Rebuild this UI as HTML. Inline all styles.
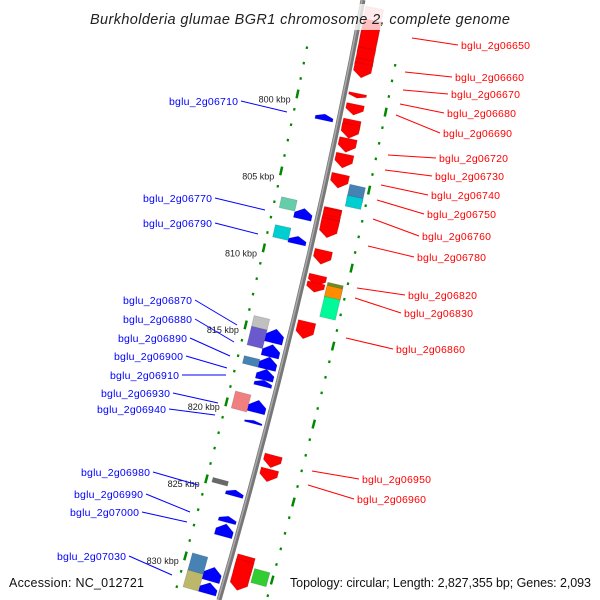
<!DOCTYPE html>
<html><head><meta charset="utf-8"><style>
html,body{margin:0;padding:0;background:#fff}
svg{display:block}
text{font-family:"Liberation Sans",sans-serif}
</style></head><body>
<svg id="map" width="600" height="600" viewBox="0 0 600 600" xmlns="http://www.w3.org/2000/svg">
<g id="ticks"></g>
<path d="M363,0 Q306,300 219,600" stroke="#777" stroke-width="5" fill="none"/>
<path d="M362,0 Q305,300 218,600" stroke="#aaa" stroke-width="1.5" fill="none"/>
<g id="genes"></g>
<g id="labels"></g>
<rect x="80" y="4" width="440" height="26" fill="#fff" opacity="0.75"/>
<text x="90" y="24" font-size="14.5" font-style="italic" fill="#222" textLength="420">Burkholderia glumae BGR1 chromosome 2, complete genome</text>
<rect x="284" y="572" width="316" height="28" fill="#fff" opacity="0.75"/>
<text x="9" y="587" font-size="12.5" fill="#111" textLength="135">Accession: NC_012721</text>
<text x="290" y="587" font-size="12.5" fill="#111" textLength="301">Topology: circular; Length: 2,827,355 bp; Genes: 2,093</text>
</svg>
<script>
// data arrays (kbp)
const tickStart = 797;
const tickEnd = 832;
const majorTicks = [800, 805, 810, 815, 820, 825, 830];
const tickLabels = ["800 kbp","805 kbp","810 kbp","815 kbp","820 kbp","825 kbp","830 kbp"];
// genes: start, end (kbp), strand, color
const geneStart = [793.7,794.5,795.0,796.3,797.0,797.3,799.2,799.9,800.9,801.2,802.1,803.1,804.4,804.9,805.6,806.6,806.7,807.1,807.3,809.3,810.9,811.4,811.2,811.4,812.1,813.9,822.5,823.4,829.0,829.3,829.6,
  800.9,807.0,808.8,814.8,815.8,816.6,817.4,818.1,819.4,820.7,825.2,826.9,827.4,830.2,831.2,
  806.6,808.4,814.3,815.0,816.9,819.2,824.8,829.7,830.8];
const geneEnd   = [795.5,796.3,797.0,797.8,797.8,798.2,799.5,800.6,801.9,802.1,803.0,804.0,805.3,805.9,806.3,807.3,807.8,808.2,808.5,810.2,811.6,812.0,812.1,812.2,813.4,815.0,823.3,824.2,830.5,831.2,830.5,
  801.3,807.7,809.3,815.7,816.6,817.4,818.1,818.5,820.2,820.9,825.6,827.3,828.2,831.1,831.9,
  807.3,809.2,815.0,816.2,817.4,820.3,825.1,830.9,831.9];
const geneStrand = [1,1,1,1,1,1,1,1,1,1,1,1,1,0,0,1,1,1,1,1,1,1,0,0,0,1,1,1,1,1,0,
  -1,-1,-1,-1,-1,-1,-1,-1,-1,-1,-1,-1,-1,-1,-1,
  0,0,0,0,0,0,0,0,0];
const geneColor = ["#ffb0b0","red","red","red","red","red","red","red","red","red","red","red","red","steelblue","darkturquoise","red","red","red","red","red","red","red","olivedrab","darkorange","mediumspringgreen","red","red","red","red","red","limegreen",
  "blue","blue","blue","blue","blue","blue","blue","blue","blue","blue","blue","blue","blue","blue","blue",
  "mediumaquamarine","darkturquoise","silver","slateblue","steelblue","lightcoral","dimgray","steelblue","darkkhaki"];
const geneSide = [1,1,1,1,1,1,1,1,1,1,1,1,1,2,2,1,1,1,1,1,1,1,2,2,2,1,1,1,1,1,2,
  -1,-1,-1,-1,-1,-1,-1,-1,-1,-1,-1,-1,-1,-1,-1,
  -2,-2,-2,-2,-2,-2,-2,-2,-2];
// labels
const labelText = ["bglu_2g06650","bglu_2g06660","bglu_2g06670","bglu_2g06680","bglu_2g06690","bglu_2g06720","bglu_2g06730","bglu_2g06740","bglu_2g06750","bglu_2g06760","bglu_2g06780","bglu_2g06820","bglu_2g06830","bglu_2g06860","bglu_2g06950","bglu_2g06960",
  "bglu_2g06710","bglu_2g06770","bglu_2g06790","bglu_2g06870","bglu_2g06880","bglu_2g06890","bglu_2g06900","bglu_2g06910","bglu_2g06930","bglu_2g06940","bglu_2g06980","bglu_2g06990","bglu_2g07000","bglu_2g07030"];
const labelX = [461,455,451,447,443,439,435,431,427,422,417,408,404,396,362,357, 238,212,212,192,192,187,183,179,170,166,150,143,139,126];
const labelY = [49,81,98,117,137,162,180,199,218,240,261,299,317,353,483,503, 105,202,227,304,323,342,360,379,397,413,476,498,516,560];
const lineFromX = [412,405,403,400,396,388,385,381,377,373,368,357,355,346,312,308, 287,265,258,237,234,230,227,226,218,215,198,190,187,172];
const lineFromY = [38,72,90,104,115,155,170,185,200,219,246,288,298,338,471,485, 112,210,234,325,342,356,368,375,403,415,485,512,522,575];

const NS="http://www.w3.org/2000/svg";
function yOf(k){return 103+(k-800)*15.5;}
function pt(k,off){
  const y=yOf(k);
  const bx=362-0.237*y+7.8e-5*y*(600-y);
  const d=-0.237+7.8e-5*(600-2*y);
  const n=Math.sqrt(1+d*d);
  return [bx+off/n, y-off*d/n];
}
function P(a){return a[0].toFixed(1)+","+a[1].toFixed(1);}
const tg=document.getElementById('ticks');
for(let k=tickStart;k<=tickEnd;k++){
  const major=majorTicks.indexOf(k)>=0;
  const len=major?0.28:0.08;
  for(const off of [-45,45]){
    const a=pt(k-len,off),b=pt(k+len,off);
    const l=document.createElementNS(NS,'line');
    
    
    l.setAttribute('x1',a[0]);l.setAttribute('y1',a[1]);l.setAttribute('x2',b[0]);l.setAttribute('y2',b[1]);
    l.setAttribute('stroke','#080');l.setAttribute('stroke-width',major?'2.5':'2.2');
    tg.appendChild(l);
  }
}
majorTicks.forEach((k,i)=>{
  const p=pt(k,-52);
  const t=document.createElementNS(NS,'text');
  
  
  t.setAttribute('x',p[0]);t.setAttribute('y',p[1]+10);
  t.setAttribute('text-anchor','end');t.setAttribute('font-size','9');t.setAttribute('fill','#222');
  t.textContent=tickLabels[i];
  tg.appendChild(t);
});
const gg=document.getElementById('genes');
for(let i=0;i<geneStart.length;i++){
  const s=geneStart[i],e=geneEnd[i],st=geneStrand[i];
  const c=geneSide[i]===1?14:(geneSide[i]===-1?-14:(geneSide[i]===2?33:-31));
  const w=geneSide[i]===1||geneSide[i]===-1?9:8;
  const h=Math.min(0.4,(e-s)*0.5);
  let pts;
  if(st===1) pts=[pt(s,c-w),pt(s,c+w),pt(e-h,c+w),pt(e,c),pt(e-h,c-w)];
  else if(st===-1) pts=[pt(e,c-w),pt(e,c+w),pt(s+h,c+w),pt(s,c),pt(s+h,c-w)];
  else pts=[pt(s,c-w),pt(s,c+w),pt(e,c+w),pt(e,c-w)];
  const g=document.createElementNS(NS,'polygon');
  
  
  g.setAttribute('points',pts.map(P).join(' '));
  g.setAttribute('fill',geneColor[i]);
  g.setAttribute('stroke','rgba(0,0,0,0.15)');g.setAttribute('stroke-width','0.8');
  gg.appendChild(g);
}
const lg=document.getElementById('labels');
for(let i=0;i<labelText.length;i++){
  const right=i<16;
  const col=right?'red':'blue';
  const l=document.createElementNS(NS,'line');
  
  
  const tx=right?labelX[i]-3:labelX[i]+3;
  l.setAttribute('x1',lineFromX[i]);l.setAttribute('y1',lineFromY[i]);
  l.setAttribute('x2',tx);l.setAttribute('y2',labelY[i]-4);
  l.setAttribute('stroke',col);l.setAttribute('stroke-width','1');
  lg.appendChild(l);
  const t=document.createElementNS(NS,'text');
  
  
  t.setAttribute('x',labelX[i]);t.setAttribute('y',labelY[i]);
  t.setAttribute('text-anchor',right?'start':'end');
  t.setAttribute('font-size','10.5');t.setAttribute('fill',col);
  t.setAttribute('textLength','69');
  t.textContent=labelText[i];
  lg.appendChild(t);
}
</script>
</body></html>
